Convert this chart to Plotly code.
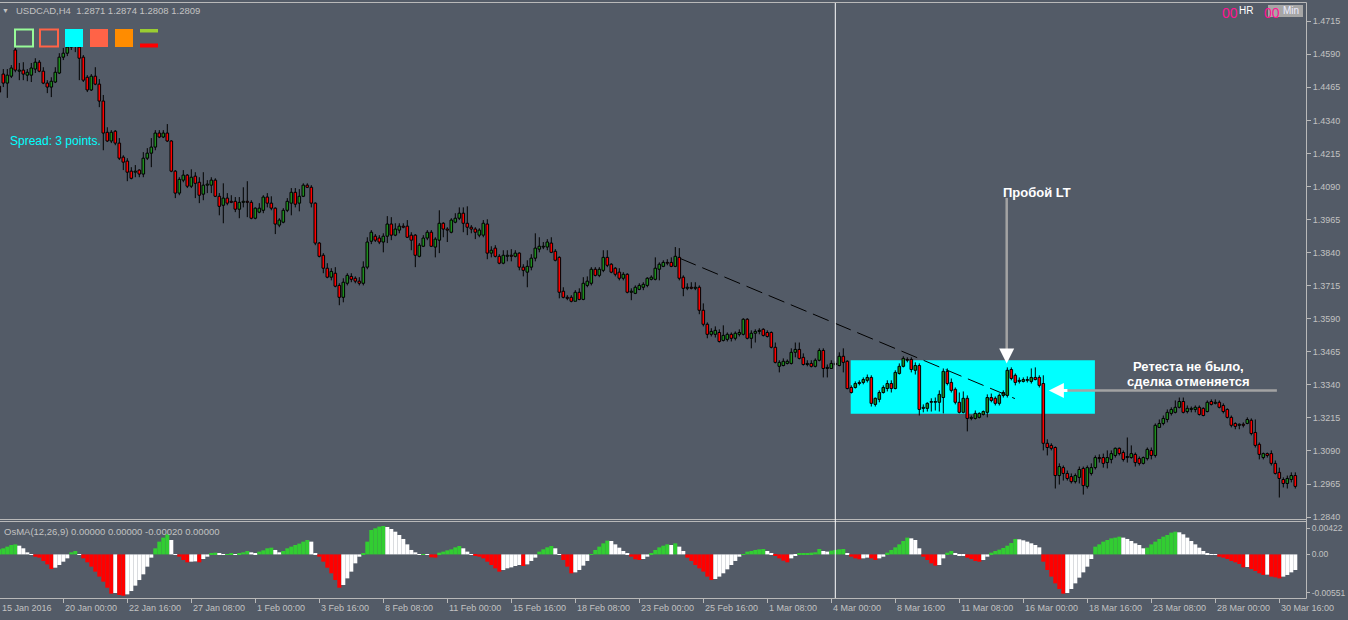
import plotly.graph_objects as go

# ---------------- data (USDCAD, H4) ----------------
open_ = [
 1.4469, 1.4515, 1.4481, 1.4507, 1.4606, 1.4526, 1.4530, 1.4511, 1.4511, 1.4534,
 1.4560, 1.4526, 1.4481, 1.4466, 1.4485, 1.4519, 1.4579, 1.4594, 1.4617, 1.4644,
 1.4617, 1.4579, 1.4503, 1.4455, 1.4507, 1.4477, 1.4413, 1.4295, 1.4262, 1.4299,
 1.4254, 1.4201, 1.4186, 1.4148, 1.4144, 1.4152, 1.4137, 1.4197, 1.4216, 1.4239,
 1.4292, 1.4277, 1.4292, 1.4262, 1.4148, 1.4065, 1.4114, 1.4133, 1.4091, 1.4129,
 1.4106, 1.4061, 1.4095, 1.4095, 1.4114, 1.4053, 1.4019, 1.4046, 1.4034, 1.4034,
 1.4004, 1.4030, 1.4034, 1.4030, 1.3970, 1.3993, 1.4000, 1.4050, 1.4027, 1.4008,
 1.3944, 1.3955, 1.4000, 1.4027, 1.4068, 1.4027, 1.4053, 1.4095, 1.4087, 1.4027,
 1.3876, 1.3830, 1.3781, 1.3747, 1.3762, 1.3716, 1.3671, 1.3724, 1.3750, 1.3743,
 1.3732, 1.3724, 1.3785, 1.3883, 1.3902, 1.3895, 1.3880, 1.3902, 1.3948, 1.3906,
 1.3925, 1.3940, 1.3940, 1.3906, 1.3906, 1.3826, 1.3864, 1.3895, 1.3917, 1.3861,
 1.3887, 1.3951, 1.3929, 1.3917, 1.3955, 1.3970, 1.3989, 1.3951, 1.3936, 1.3929,
 1.3906, 1.3906, 1.3948, 1.3838, 1.3857, 1.3826, 1.3800, 1.3826, 1.3830, 1.3826,
 1.3838, 1.3785, 1.3766, 1.3785, 1.3819, 1.3853, 1.3861, 1.3861, 1.3876, 1.3845,
 1.3822, 1.3694, 1.3671, 1.3671, 1.3656, 1.3690, 1.3663, 1.3716, 1.3724, 1.3777,
 1.3754, 1.3773, 1.3822, 1.3796, 1.3781, 1.3766, 1.3743, 1.3758, 1.3690, 1.3686,
 1.3701, 1.3709, 1.3716, 1.3739, 1.3739, 1.3777, 1.3788, 1.3803, 1.3803, 1.3788,
 1.3822, 1.3747, 1.3705, 1.3709, 1.3705, 1.3709, 1.3622, 1.3569, 1.3531, 1.3531,
 1.3538, 1.3508, 1.3512, 1.3531, 1.3516, 1.3531, 1.3531, 1.3588, 1.3516, 1.3535,
 1.3542, 1.3550, 1.3538, 1.3538, 1.3482, 1.3410, 1.3413, 1.3421, 1.3421, 1.3463,
 1.3474, 1.3444, 1.3417, 1.3421, 1.3410, 1.3433, 1.3470, 1.3402, 1.3402, 1.3417,
 1.3413, 1.3448, 1.3429, 1.3330, 1.3330, 1.3345, 1.3349, 1.3357, 1.3368, 1.3266,
 1.3285, 1.3311, 1.3326, 1.3345, 1.3326, 1.3383, 1.3410, 1.3436, 1.3436, 1.3395,
 1.3413, 1.3251, 1.3251, 1.3274, 1.3274, 1.3274, 1.3292, 1.3391, 1.3349, 1.3323,
 1.3274, 1.3236, 1.3289, 1.3213, 1.3213, 1.3217, 1.3228, 1.3236, 1.3292, 1.3289,
 1.3270, 1.3300, 1.3300, 1.3398, 1.3376, 1.3353, 1.3353, 1.3357, 1.3353, 1.3368,
 1.3368, 1.3345, 1.3119, 1.3111, 1.3103, 1.2997, 1.3027, 1.3005, 1.2993, 1.2974,
 1.2990, 1.3024, 1.2956, 1.3005, 1.3027, 1.3065, 1.3065, 1.3046, 1.3058, 1.3073,
 1.3100, 1.3084, 1.3065, 1.3065, 1.3077, 1.3061, 1.3043, 1.3061, 1.3092, 1.3073,
 1.3179, 1.3194, 1.3209, 1.3232, 1.3236, 1.3255, 1.3277, 1.3239, 1.3247, 1.3247,
 1.3255, 1.3251, 1.3239, 1.3277, 1.3270, 1.3274, 1.3262, 1.3247, 1.3217, 1.3194,
 1.3187, 1.3191, 1.3194, 1.3206, 1.3160, 1.3115, 1.3065, 1.3080, 1.3080, 1.3043,
 1.3009, 1.2982, 1.2967, 1.2982, 1.2997]

high = [
 1.4492, 1.4534, 1.4534, 1.4549, 1.4614, 1.4557, 1.4560, 1.4534, 1.4557, 1.4575,
 1.4568, 1.4541, 1.4492, 1.4503, 1.4541, 1.4594, 1.4614, 1.4632, 1.4671, 1.4663,
 1.4644, 1.4587, 1.4511, 1.4515, 1.4541, 1.4496, 1.4436, 1.4314, 1.4303, 1.4303,
 1.4273, 1.4208, 1.4197, 1.4163, 1.4171, 1.4155, 1.4220, 1.4235, 1.4273, 1.4303,
 1.4303, 1.4303, 1.4326, 1.4265, 1.4152, 1.4125, 1.4152, 1.4137, 1.4155, 1.4144,
 1.4125, 1.4144, 1.4114, 1.4125, 1.4121, 1.4065, 1.4102, 1.4065, 1.4057, 1.4050,
 1.4050, 1.4087, 1.4110, 1.4038, 1.4011, 1.4027, 1.4057, 1.4065, 1.4053, 1.4011,
 1.3970, 1.4008, 1.4046, 1.4084, 1.4084, 1.4080, 1.4102, 1.4102, 1.4095, 1.4030,
 1.3880, 1.3838, 1.3800, 1.3781, 1.3785, 1.3724, 1.3743, 1.3762, 1.3762, 1.3750,
 1.3747, 1.3807, 1.3898, 1.3925, 1.3910, 1.3906, 1.3913, 1.3978, 1.3974, 1.3951,
 1.3951, 1.3951, 1.3963, 1.3917, 1.3910, 1.3876, 1.3906, 1.3925, 1.3925, 1.3898,
 1.4000, 1.3955, 1.3936, 1.3970, 1.3989, 1.4011, 1.4011, 1.4015, 1.3944, 1.3936,
 1.3932, 1.3963, 1.3966, 1.3864, 1.3868, 1.3834, 1.3849, 1.3849, 1.3853, 1.3849,
 1.3841, 1.3796, 1.3811, 1.3834, 1.3913, 1.3898, 1.3880, 1.3891, 1.3898, 1.3853,
 1.3826, 1.3709, 1.3679, 1.3679, 1.3698, 1.3705, 1.3747, 1.3750, 1.3785, 1.3785,
 1.3785, 1.3849, 1.3849, 1.3800, 1.3785, 1.3781, 1.3766, 1.3762, 1.3705, 1.3716,
 1.3724, 1.3728, 1.3747, 1.3754, 1.3822, 1.3803, 1.3811, 1.3815, 1.3822, 1.3861,
 1.3857, 1.3754, 1.3724, 1.3728, 1.3728, 1.3716, 1.3648, 1.3576, 1.3554, 1.3561,
 1.3550, 1.3565, 1.3538, 1.3538, 1.3542, 1.3550, 1.3592, 1.3592, 1.3546, 1.3550,
 1.3554, 1.3554, 1.3546, 1.3542, 1.3500, 1.3433, 1.3440, 1.3436, 1.3478, 1.3500,
 1.3500, 1.3459, 1.3433, 1.3433, 1.3440, 1.3478, 1.3478, 1.3417, 1.3433, 1.3429,
 1.3463, 1.3478, 1.3433, 1.3338, 1.3353, 1.3357, 1.3368, 1.3379, 1.3376, 1.3292,
 1.3319, 1.3338, 1.3357, 1.3357, 1.3395, 1.3421, 1.3448, 1.3444, 1.3444, 1.3425,
 1.3421, 1.3266, 1.3274, 1.3289, 1.3292, 1.3319, 1.3402, 1.3402, 1.3364, 1.3330,
 1.3311, 1.3315, 1.3300, 1.3224, 1.3243, 1.3236, 1.3243, 1.3304, 1.3307, 1.3296,
 1.3307, 1.3319, 1.3406, 1.3406, 1.3383, 1.3368, 1.3368, 1.3372, 1.3402, 1.3406,
 1.3376, 1.3376, 1.3134, 1.3119, 1.3107, 1.3043, 1.3035, 1.3016, 1.3005, 1.3005,
 1.3031, 1.3031, 1.3035, 1.3043, 1.3073, 1.3077, 1.3080, 1.3092, 1.3092, 1.3103,
 1.3103, 1.3092, 1.3141, 1.3111, 1.3084, 1.3069, 1.3069, 1.3103, 1.3103, 1.3194,
 1.3209, 1.3224, 1.3247, 1.3255, 1.3281, 1.3292, 1.3292, 1.3262, 1.3258, 1.3262,
 1.3262, 1.3255, 1.3281, 1.3285, 1.3285, 1.3281, 1.3270, 1.3251, 1.3224, 1.3198,
 1.3194, 1.3198, 1.3217, 1.3213, 1.3209, 1.3122, 1.3084, 1.3084, 1.3092, 1.3054,
 1.3027, 1.2990, 1.2997, 1.3009, 1.3009]

low = [
 1.4387, 1.4466, 1.4425, 1.4500, 1.4522, 1.4492, 1.4492, 1.4488, 1.4485, 1.4519,
 1.4522, 1.4477, 1.4443, 1.4428, 1.4481, 1.4515, 1.4568, 1.4583, 1.4606, 1.4598,
 1.4492, 1.4485, 1.4447, 1.4451, 1.4473, 1.4390, 1.4227, 1.4258, 1.4254, 1.4246,
 1.4190, 1.4152, 1.4110, 1.4117, 1.4125, 1.4125, 1.4125, 1.4190, 1.4163, 1.4227,
 1.4273, 1.4273, 1.4258, 1.4144, 1.4046, 1.4057, 1.4106, 1.4084, 1.4084, 1.4046,
 1.4027, 1.4038, 1.4065, 1.4065, 1.4050, 1.3981, 1.3951, 1.4019, 1.4027, 1.3993,
 1.3970, 1.4011, 1.3974, 1.3966, 1.3966, 1.3989, 1.3989, 1.4011, 1.4000, 1.3910,
 1.3936, 1.3951, 1.3993, 1.3981, 1.4011, 1.3996, 1.4050, 1.4084, 1.4011, 1.3868,
 1.3822, 1.3762, 1.3743, 1.3735, 1.3709, 1.3641, 1.3652, 1.3716, 1.3728, 1.3724,
 1.3716, 1.3716, 1.3777, 1.3872, 1.3880, 1.3872, 1.3841, 1.3876, 1.3887, 1.3902,
 1.3913, 1.3932, 1.3895, 1.3849, 1.3785, 1.3822, 1.3861, 1.3887, 1.3861, 1.3822,
 1.3838, 1.3898, 1.3880, 1.3913, 1.3951, 1.3963, 1.3917, 1.3906, 1.3913, 1.3891,
 1.3898, 1.3898, 1.3815, 1.3822, 1.3822, 1.3796, 1.3796, 1.3807, 1.3807, 1.3822,
 1.3773, 1.3750, 1.3709, 1.3773, 1.3807, 1.3841, 1.3853, 1.3849, 1.3838, 1.3807,
 1.3667, 1.3667, 1.3660, 1.3652, 1.3656, 1.3660, 1.3660, 1.3709, 1.3716, 1.3750,
 1.3747, 1.3766, 1.3785, 1.3762, 1.3750, 1.3735, 1.3735, 1.3686, 1.3660, 1.3683,
 1.3698, 1.3698, 1.3709, 1.3735, 1.3735, 1.3735, 1.3785, 1.3792, 1.3785, 1.3785,
 1.3735, 1.3675, 1.3698, 1.3701, 1.3698, 1.3607, 1.3561, 1.3516, 1.3523, 1.3519,
 1.3500, 1.3504, 1.3504, 1.3504, 1.3508, 1.3523, 1.3527, 1.3512, 1.3478, 1.3500,
 1.3531, 1.3523, 1.3519, 1.3478, 1.3421, 1.3387, 1.3410, 1.3417, 1.3417, 1.3444,
 1.3436, 1.3413, 1.3410, 1.3406, 1.3406, 1.3429, 1.3368, 1.3368, 1.3400, 1.3410,
 1.3410, 1.3387, 1.3323, 1.3307, 1.3326, 1.3338, 1.3342, 1.3349, 1.3258, 1.3258,
 1.3274, 1.3307, 1.3315, 1.3311, 1.3323, 1.3379, 1.3406, 1.3425, 1.3387, 1.3379,
 1.3224, 1.3236, 1.3239, 1.3239, 1.3243, 1.3239, 1.3232, 1.3338, 1.3311, 1.3266,
 1.3232, 1.3232, 1.3164, 1.3206, 1.3209, 1.3213, 1.3224, 1.3217, 1.3274, 1.3262,
 1.3262, 1.3292, 1.3292, 1.3357, 1.3338, 1.3345, 1.3349, 1.3349, 1.3345, 1.3357,
 1.3330, 1.3092, 1.3073, 1.3092, 1.2948, 1.2963, 1.2978, 1.2978, 1.2967, 1.2967,
 1.2967, 1.2925, 1.2948, 1.2997, 1.3020, 1.3046, 1.3027, 1.3024, 1.3043, 1.3065,
 1.3073, 1.3050, 1.3046, 1.3061, 1.3031, 1.3035, 1.3039, 1.3054, 1.3058, 1.3065,
 1.3179, 1.3187, 1.3198, 1.3224, 1.3232, 1.3251, 1.3232, 1.3232, 1.3236, 1.3236,
 1.3224, 1.3221, 1.3236, 1.3262, 1.3266, 1.3251, 1.3232, 1.3213, 1.3179, 1.3172,
 1.3172, 1.3179, 1.3191, 1.3149, 1.3103, 1.3058, 1.3058, 1.3065, 1.3035, 1.3001,
 1.2914, 1.2952, 1.2948, 1.2971, 1.2948]

close = [
 1.4447, 1.4481, 1.4511, 1.4538, 1.4530, 1.4530, 1.4515, 1.4522, 1.4538, 1.4560,
 1.4526, 1.4481, 1.4466, 1.4488, 1.4522, 1.4579, 1.4594, 1.4617, 1.4644, 1.4629,
 1.4575, 1.4492, 1.4455, 1.4507, 1.4477, 1.4413, 1.4292, 1.4262, 1.4295, 1.4254,
 1.4197, 1.4182, 1.4144, 1.4121, 1.4148, 1.4137, 1.4197, 1.4216, 1.4239, 1.4292,
 1.4277, 1.4292, 1.4262, 1.4148, 1.4065, 1.4117, 1.4133, 1.4091, 1.4125, 1.4102,
 1.4057, 1.4095, 1.4099, 1.4114, 1.4053, 1.4015, 1.4046, 1.4027, 1.4030, 1.4004,
 1.4030, 1.4034, 1.4030, 1.3970, 1.4008, 1.4008, 1.4050, 1.4027, 1.4008, 1.3948,
 1.3963, 1.4000, 1.4034, 1.4068, 1.4023, 1.4053, 1.4095, 1.4087, 1.4027, 1.3876,
 1.3826, 1.3781, 1.3747, 1.3769, 1.3713, 1.3671, 1.3728, 1.3754, 1.3739, 1.3732,
 1.3724, 1.3785, 1.3880, 1.3917, 1.3887, 1.3880, 1.3902, 1.3948, 1.3906, 1.3929,
 1.3940, 1.3936, 1.3898, 1.3887, 1.3830, 1.3868, 1.3895, 1.3917, 1.3864, 1.3891,
 1.3951, 1.3929, 1.3925, 1.3963, 1.3970, 1.3989, 1.3951, 1.3936, 1.3929, 1.3917,
 1.3925, 1.3951, 1.3838, 1.3849, 1.3826, 1.3800, 1.3830, 1.3830, 1.3826, 1.3838,
 1.3785, 1.3773, 1.3788, 1.3819, 1.3857, 1.3864, 1.3864, 1.3880, 1.3841, 1.3811,
 1.3690, 1.3671, 1.3667, 1.3656, 1.3690, 1.3663, 1.3724, 1.3732, 1.3777, 1.3754,
 1.3777, 1.3822, 1.3792, 1.3766, 1.3758, 1.3743, 1.3758, 1.3690, 1.3694, 1.3709,
 1.3716, 1.3720, 1.3743, 1.3747, 1.3781, 1.3796, 1.3803, 1.3800, 1.3788, 1.3826,
 1.3743, 1.3705, 1.3709, 1.3705, 1.3709, 1.3622, 1.3569, 1.3531, 1.3542, 1.3546,
 1.3504, 1.3527, 1.3531, 1.3516, 1.3535, 1.3538, 1.3588, 1.3516, 1.3535, 1.3542,
 1.3546, 1.3527, 1.3523, 1.3482, 1.3425, 1.3425, 1.3429, 1.3429, 1.3463, 1.3474,
 1.3440, 1.3417, 1.3421, 1.3410, 1.3433, 1.3470, 1.3402, 1.3406, 1.3421, 1.3421,
 1.3448, 1.3425, 1.3326, 1.3311, 1.3345, 1.3349, 1.3360, 1.3368, 1.3270, 1.3289,
 1.3311, 1.3330, 1.3345, 1.3326, 1.3387, 1.3410, 1.3440, 1.3433, 1.3398, 1.3413,
 1.3247, 1.3255, 1.3270, 1.3277, 1.3277, 1.3304, 1.3391, 1.3345, 1.3319, 1.3274,
 1.3236, 1.3289, 1.3213, 1.3217, 1.3232, 1.3232, 1.3239, 1.3292, 1.3281, 1.3270,
 1.3300, 1.3311, 1.3395, 1.3364, 1.3349, 1.3357, 1.3360, 1.3360, 1.3368, 1.3360,
 1.3338, 1.3119, 1.3103, 1.3100, 1.2997, 1.3031, 1.3005, 1.2986, 1.2974, 1.2997,
 1.3020, 1.2959, 1.3027, 1.3027, 1.3065, 1.3061, 1.3043, 1.3065, 1.3080, 1.3100,
 1.3080, 1.3058, 1.3069, 1.3080, 1.3046, 1.3043, 1.3065, 1.3096, 1.3073, 1.3187,
 1.3194, 1.3213, 1.3236, 1.3247, 1.3255, 1.3277, 1.3236, 1.3251, 1.3251, 1.3255,
 1.3228, 1.3224, 1.3274, 1.3266, 1.3274, 1.3255, 1.3239, 1.3217, 1.3187, 1.3183,
 1.3191, 1.3187, 1.3209, 1.3156, 1.3111, 1.3077, 1.3080, 1.3073, 1.3043, 1.3005,
 1.2986, 1.2967, 1.2986, 1.2997, 1.2956]

# OsMA(12,26,9) histogram values, one per bar
osma = [
 0.00064, 0.00077, 0.00098, 0.00119, 0.00127, 0.00110, 0.00077, 0.00026, 0.00005, -0.00029,
 -0.00041, -0.00083, -0.00126, -0.00185, -0.00168, -0.00134, -0.00092, -0.00050, 0.00026, 0.00043,
 0.00005, -0.00050, -0.00100, -0.00155, -0.00218, -0.00281, -0.00345, -0.00421, -0.00496, -0.00488,
 -0.00513, -0.00522, -0.00505, -0.00463, -0.00395, -0.00324, -0.00252, -0.00155, -0.00041, 0.00077,
 0.00161, 0.00212, 0.00254, 0.00182, 0.00005, -0.00029, -0.00071, -0.00100, -0.00092, -0.00088,
 -0.00100, -0.00058, -0.00029, 0.00013, 0.00022, 0.00009, 0.00001, 0.00005, 0.00009, 0.00001,
 0.00009, 0.00026, 0.00043, 0.00026, 0.00009, 0.00035, 0.00051, 0.00077, 0.00085, 0.00056,
 0.00026, 0.00043, 0.00077, 0.00098, 0.00119, 0.00136, 0.00161, 0.00182, 0.00161, 0.00013,
 -0.00029, -0.00092, -0.00168, -0.00239, -0.00324, -0.00421, -0.00387, -0.00303, -0.00218, -0.00113,
 -0.00029, 0.00013, 0.00161, 0.00308, 0.00330, 0.00351, 0.00359, 0.00346, 0.00321, 0.00287,
 0.00245, 0.00195, 0.00127, 0.00056, 0.00026, 0.00001, 0.00005, 0.00001, -0.00037, -0.00041,
 0.00022, 0.00035, 0.00051, 0.00064, 0.00089, 0.00106, 0.00077, 0.00035, 0.00005, -0.00012,
 -0.00029, -0.00050, -0.00092, -0.00134, -0.00176, -0.00218, -0.00197, -0.00176, -0.00164, -0.00147,
 -0.00134, -0.00147, -0.00126, -0.00083, -0.00041, 0.00035, 0.00064, 0.00089, 0.00106, 0.00077,
 0.00005, -0.00071, -0.00155, -0.00239, -0.00227, -0.00197, -0.00142, -0.00083, 0.00005, 0.00056,
 0.00098, 0.00140, 0.00174, 0.00169, 0.00127, 0.00085, 0.00043, 0.00009, -0.00029, -0.00062,
 -0.00071, -0.00058, -0.00029, 0.00013, 0.00056, 0.00089, 0.00110, 0.00127, 0.00119, 0.00140,
 0.00098, 0.00043, -0.00041, -0.00083, -0.00134, -0.00176, -0.00218, -0.00281, -0.00324, -0.00311,
 -0.00281, -0.00239, -0.00189, -0.00134, -0.00083, -0.00029, 0.00005, 0.00035, 0.00043, 0.00056,
 0.00064, 0.00068, 0.00043, 0.00013, -0.00016, -0.00050, -0.00079, -0.00100, -0.00050, -0.00016,
 0.00009, 0.00013, 0.00018, 0.00022, 0.00026, 0.00068, 0.00043, 0.00035, 0.00047, 0.00056,
 0.00064, 0.00068, 0.00013, -0.00029, -0.00050, -0.00062, -0.00050, -0.00041, -0.00050, -0.00071,
 -0.00050, -0.00029, 0.00022, 0.00056, 0.00089, 0.00127, 0.00169, 0.00212, 0.00203, 0.00182,
 0.00077, -0.00029, -0.00071, -0.00113, -0.00142, -0.00134, -0.00050, 0.00022, 0.00043, 0.00013,
 -0.00008, -0.00008, -0.00041, -0.00058, -0.00083, -0.00092, -0.00071, -0.00029, 0.00022, 0.00043,
 0.00060, 0.00081, 0.00110, 0.00144, 0.00195, 0.00190, 0.00178, 0.00161, 0.00140, 0.00119,
 0.00089, -0.00092, -0.00197, -0.00281, -0.00366, -0.00437, -0.00496, -0.00488, -0.00437, -0.00366,
 -0.00294, -0.00227, -0.00155, -0.00058, 0.00098, 0.00127, 0.00161, 0.00182, 0.00203, 0.00212,
 0.00224, 0.00212, 0.00195, 0.00169, 0.00140, 0.00119, 0.00077, 0.00085, 0.00127, 0.00161,
 0.00195, 0.00224, 0.00245, 0.00275, 0.00287, 0.00279, 0.00254, 0.00212, 0.00169, 0.00127,
 0.00085, 0.00043, 0.00018, 0.00005, 0.00001, -0.00029, -0.00041, -0.00058, -0.00083, -0.00100,
 -0.00121, -0.00164, -0.00159, -0.00185, -0.00210, -0.00239, -0.00260, -0.00256, -0.00281, -0.00290,
 -0.00303, -0.00281, -0.00260, -0.00227, -0.00197]

# histogram colour per bar: G = green, W = white, R = red
osma_colors = ("GGGGG WWWW RRRRR WWWW GG W RRRRRRRR W RR WWWWWWW GGGG WW RRR WW R WW GG WW GG W "
               "GGG WW GGGG WW GGGGGGG WW RRRRRR WWWWW GGGGGG WWWWWWWWW G W RR GGGGGG WWW RRRRRRR "
               "WWWWW R WWW GGGG WW RRR WWWW GGGGG WWWWW RRR WW GGGGG W G WW RRRRRRR WWWWWWW GGGGGG "
               "WW RRRR WW GGGGGG WW GGGG W RRR WW RR WW GGGGGG WWW RRRR WW GG WWW RRRR WW GGGGGGG "
               "WWWWWW RRRRRR WWWWWWW GGGGGGG WWWWWW GGGGGGGG WWWWWWWWWW RRRRRRR W RRRR W RRR WWWW"
               ).replace(" ", "")

price_ticks = [1.4715, 1.4590, 1.4465, 1.4340, 1.4215, 1.4090, 1.3965, 1.3840,
               1.3715, 1.3590, 1.3465, 1.3340, 1.3215, 1.3090, 1.2965, 1.2840]
osma_tick_vals = [0.0033, 0.0, -0.00484]
osma_tick_text = ["0.00422", "0.00", "-0.00551"]

bars_per_label = 16
date_labels = ["15 Jan 2016", "20 Jan 00:00", "22 Jan 16:00", "27 Jan 08:00", "1 Feb 00:00",
               "3 Feb 16:00", "8 Feb 08:00", "11 Feb 00:00", "15 Feb 16:00", "18 Feb 08:00",
               "23 Feb 00:00", "25 Feb 16:00", "1 Mar 08:00", "4 Mar 00:00", "8 Mar 16:00",
               "11 Mar 08:00", "16 Mar 00:00", "18 Mar 16:00", "23 Mar 08:00", "28 Mar 00:00",
               "30 Mar 16:00"]

# drawn objects on the chart
trend_bar = [170.2, 253.9]
trend_price = [1.3818, 1.3288]
zone_bars = [212.85, 273.9]
zone_prices = [1.3231, 1.3433]
marker_bar = 209

# ---------------- styling ----------------
BG = "#535B67"
FRAME = "#B9B9B9"
LABEL = "#C2C2C2"
FONT = "Liberation Sans"
TICK_SIZE = 9
BULL, BEAR = "#1E8C1E", "#FF0000"
CMAP = {"G": "#32CD32", "W": "#FFFFFF", "R": "#FF0000"}

W, H = 1348, 620
PL, PR, PT, PB = 0, 42, 3, 22
PW, PH = W - PL - PR, H - PT - PB


def px_x(px):
    return (px - PL) / PW


def px_y(py):
    return (H - PB - py) / PH


idx = list(range(len(close)))

# wick segments (outside the bodies)
wx, wy = [], []
for i, o, h, l, c in zip(idx, open_, high, low, close):
    top, bot = max(o, c), min(o, c)
    if h > top:
        wx += [i, i, None]
        wy += [h, top, None]
    if l < bot:
        wx += [i, i, None]
        wy += [bot, l, None]

fig = go.Figure()
fig.add_trace(go.Scatter(x=wx, y=wy, mode="lines", line=dict(color="black", width=1),
                         hoverinfo="skip", xaxis="x", yaxis="y"))
fig.add_trace(go.Bar(
    x=idx,
    y=[abs(c - o) for o, c in zip(open_, close)],
    base=[min(o, c) for o, c in zip(open_, close)],
    width=0.65,
    marker=dict(color=[BULL if c >= o else BEAR for o, c in zip(open_, close)],
                line=dict(color="black", width=1)),
    hoverinfo="skip", xaxis="x", yaxis="y"))
fig.add_trace(go.Bar(
    x=idx, y=osma, width=1.0,
    marker=dict(color=[CMAP[c] for c in osma_colors], line=dict(width=0)),
    hoverinfo="skip", xaxis="x", yaxis="y2"))

main_bottom = px_y(519.5)
osc_top = px_y(521)

fig.update_layout(
    template="none",
    width=W, height=H,
    margin=dict(l=PL, r=PR, t=PT, b=PB, pad=0),
    paper_bgcolor=BG, plot_bgcolor=BG,
    showlegend=False, barmode="overlay", hovermode=False,
    xaxis=dict(domain=[0, 1], range=[0.175, 326.675], anchor="y2",
               showgrid=False, zeroline=False, showline=False, automargin=False,
               tickvals=[bars_per_label * i for i in range(1, len(date_labels))],
               ticks="outside", ticklen=4, tickcolor=FRAME, tickwidth=1,
               showticklabels=False),
    yaxis=dict(domain=[main_bottom, 1], range=[1.28308, 1.47838], anchor="x", side="right",
               showgrid=False, zeroline=False, showline=False, automargin=False,
               tickvals=price_ticks, ticktext=[f"{v:.4f}" for v in price_ticks],
               ticks="outside", ticklen=4, tickcolor=FRAME, tickwidth=1,
               tickfont=dict(family=FONT, size=TICK_SIZE, color=LABEL)),
    yaxis2=dict(domain=[0, osc_top], range=[-0.00551, 0.00422], anchor="x", side="right",
                showgrid=False, zeroline=False, showline=False, automargin=False,
                tickvals=osma_tick_vals, ticktext=osma_tick_text,
                ticks="outside", ticklen=3, tickcolor=FRAME, tickwidth=1,
                tickfont=dict(family=FONT, size=8.5, color=LABEL)),
)

shapes = []
# frame lines
for py in (2.5, 519.5, 521.5, 598.5):
    shapes.append(dict(type="line", xref="paper", yref="paper", x0=0, x1=px_x(1306.5),
                       y0=px_y(py), y1=px_y(py), line=dict(color=FRAME, width=1)))
shapes.append(dict(type="line", xref="paper", yref="paper", x0=px_x(1306.5), x1=px_x(1306.5),
                   y0=px_y(598.5), y1=px_y(2.5), line=dict(color=FRAME, width=1)))
# cyan zone
shapes.append(dict(type="rect", xref="x", yref="y", x0=zone_bars[0], x1=zone_bars[1],
                   y0=zone_prices[0], y1=zone_prices[1], fillcolor="#00FFFF",
                   line=dict(width=0), layer="below"))
# trend line
shapes.append(dict(type="line", xref="x", yref="y", x0=trend_bar[0], x1=trend_bar[1],
                   y0=trend_price[0], y1=trend_price[1],
                   line=dict(color="black", width=1, dash="17px,7px")))
# vertical marker line
shapes.append(dict(type="line", xref="x", yref="paper", x0=marker_bar, x1=marker_bar,
                   y0=0, y1=1, line=dict(color="white", width=1)))
# grey callout lines
shapes.append(dict(type="line", xref="x", yref="y", x0=251.85, x1=251.85, y0=1.4046, y1=1.3470,
                   line=dict(color="#A3A3A3", width=2.5)))
shapes.append(dict(type="line", xref="x", yref="y", x0=265.0, x1=319.4, y0=1.3319, y1=1.3319,
                   line=dict(color="#A3A3A3", width=2.5)))
# toolbar icons (top-left)
shapes.append(dict(type="rect", xref="paper", yref="paper", x0=px_x(15), x1=px_x(33),
                   y0=px_y(46.5), y1=px_y(29.5), line=dict(color="#98FB98", width=2)))
shapes.append(dict(type="rect", xref="paper", yref="paper", x0=px_x(40), x1=px_x(58),
                   y0=px_y(46.5), y1=px_y(29.5), line=dict(color="#FF6347", width=2)))
for x0, col in ((65, "#00FFFF"), (90, "#FF6347"), (115, "#FF8C00")):
    shapes.append(dict(type="rect", xref="paper", yref="paper", x0=px_x(x0), x1=px_x(x0 + 18),
                       y0=px_y(47), y1=px_y(29), fillcolor=col, line=dict(width=0)))
shapes.append(dict(type="rect", xref="paper", yref="paper", x0=px_x(140), x1=px_x(158),
                   y0=px_y(32.5), y1=px_y(29), fillcolor="#9ACD32", line=dict(width=0)))
shapes.append(dict(type="rect", xref="paper", yref="paper", x0=px_x(140), x1=px_x(158),
                   y0=px_y(47.5), y1=px_y(43.5), fillcolor="#FF0000", line=dict(width=0)))
# "Min" box (top-right)
shapes.append(dict(type="rect", xref="paper", yref="paper", x0=px_x(1268), x1=px_x(1303),
                   y0=px_y(17), y1=px_y(5), fillcolor="#A6A6A6", line=dict(width=0)))
fig.update_layout(shapes=shapes)


def label(px, py, text, size=9.5, color=LABEL, xanchor="left", family=FONT):
    fig.add_annotation(xref="paper", yref="paper", x=px_x(px), y=px_y(py), text=text,
                       showarrow=False, xanchor=xanchor, yanchor="middle",
                       font=dict(family=family, size=size, color=color))


# header and panel labels
label(5, 11, "▼", size=7, xanchor="center")
label(14, 11, "USDCAD,H4\u00a0\u00a01.2871 1.2874 1.2808 1.2809")
label(8, 141, "Spread: 3 points.", size=12, color="#00FFFF")
label(2, 531, "OsMA(12,26,9) 0.00000 0.00000 -0.00020 0.00000")
label(1229.5, 12.5, "00", size=14, color="#FF1493", xanchor="center")
label(1246, 10.5, "HR", size=10, color="#FFFFFF", xanchor="center")
label(1291, 11, "Min", size=10, color="#ECECFF", xanchor="center")
label(1271.5, 12.5, "00", size=14, color="#FF1493", xanchor="center")

# date labels along the bottom axis
for i, txt in enumerate(date_labels):
    if i == 0:
        fig.add_annotation(xref="paper", yref="paper", x=0, y=px_y(608), text=txt,
                           showarrow=False, xanchor="left", yanchor="middle",
                           font=dict(family=FONT, size=TICK_SIZE, color=LABEL))
    else:
        fig.add_annotation(xref="x", yref="paper", x=bars_per_label * i, y=px_y(608), text=txt,
                           showarrow=False, xanchor="left", yanchor="middle",
                           font=dict(family=FONT, size=TICK_SIZE, color=LABEL))

# chart commentary
bold = dict(family=FONT, size=13, color="white")
fig.add_annotation(xref="x", yref="y", x=259.4, y=1.4067, text="<b>Пробой LT</b>",
                   showarrow=False, xanchor="center", yanchor="middle", font=bold)
fig.add_annotation(xref="x", yref="y", x=297.2, y=1.3410, text="<b>Ретеста не было,</b>",
                   showarrow=False, xanchor="center", yanchor="middle", font=bold)
fig.add_annotation(xref="x", yref="y", x=297.2, y=1.3351, text="<b>сделка отменяется</b>",
                   showarrow=False, xanchor="center", yanchor="middle", font=bold)
# white arrow heads
fig.add_annotation(xref="x", yref="y", x=251.85, y=1.3421, text="", showarrow=True,
                   ax=0, ay=-16, arrowhead=2, arrowsize=1, arrowwidth=3, arrowcolor="white")
fig.add_annotation(xref="x", yref="y", x=262.4, y=1.3319, text="", showarrow=True,
                   ax=20, ay=0, arrowhead=2, arrowsize=1, arrowwidth=3, arrowcolor="white")

fig.write_html(
    "out.html",
    config={"displayModeBar": False},
    post_script="document.body.style.margin='0px';document.body.style.background='" + BG + "';",
)
